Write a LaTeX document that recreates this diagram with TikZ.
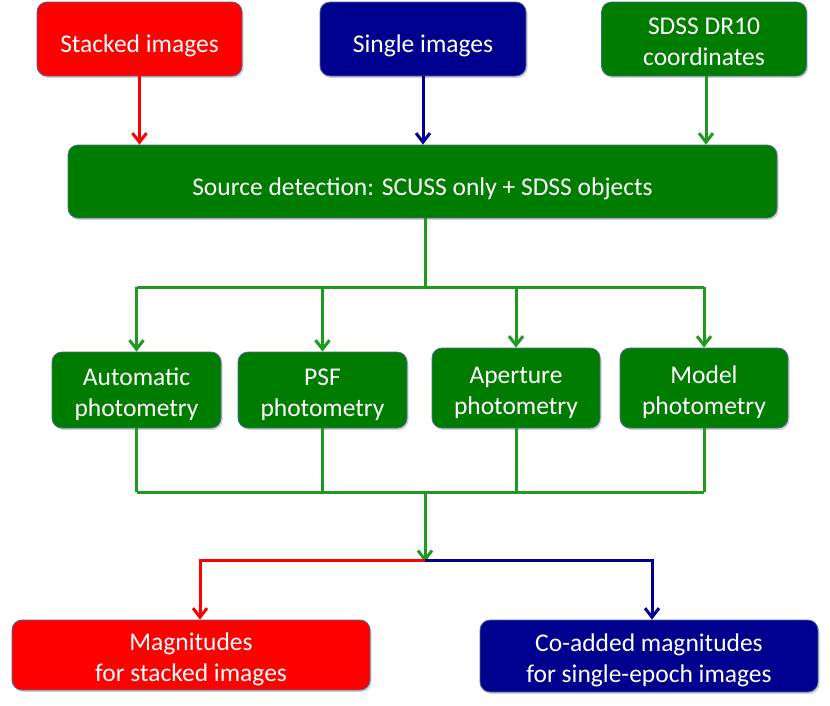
\documentclass[tikz,border=0pt]{standalone}
\usepackage{fontspec}
\setmainfont{Carlito}
\usetikzlibrary{positioning, arrows.meta, calc, shadows}
\definecolor{SC_Red}{HTML}{FF0000}
\definecolor{SC_Blue}{HTML}{00008F}
\definecolor{SC_Green}{HTML}{007D00}
\definecolor{SC_Line}{HTML}{1E9A1E}
\definecolor{SC_Edge}{HTML}{4A6A9A}
\newcommand{\twolines}[2]{\begin{tabular}[b]{@{}c@{}}#1\\#2\end{tabular}}

\begin{document}
\begin{tikzpicture}[
  x=1pt, y=-1pt, every node/.style={font=\fontsize{25.5}{31}\selectfont},
  box/.style={draw=SC_Edge, line width=0.8pt, rounded corners=10pt, text=white,
    inner sep=0pt, text depth=0pt,
    execute at begin node={\rule{0pt}{27pt}},
    drop shadow={shadow xshift=1.5pt, shadow yshift=-2pt, opacity=0.35}},
  rbox/.style={box, fill=SC_Red},
  bbox/.style={box, fill=SC_Blue},
  gbox/.style={box, fill=SC_Green},
  arr/.style={-{Straight Barb[length=9pt, width=14pt]}, line width=3pt},
  lnk/.style={line width=3pt, SC_Line}
]
  \useasboundingbox (0,0) rectangle (830,705);

  % Inputs
  \node[rbox, minimum width=205pt, minimum height=74pt] (stacked) at (139.5,39) {Stacked images};
  \node[bbox, minimum width=206pt, minimum height=74pt] (single) at (423,39) {Single images};
  \node[gbox, minimum width=205pt, minimum height=74pt] (sdss) at (704,39) {\twolines{SDSS DR10}{coordinates}};

  % Source detection
  \node[gbox, minimum width=709pt, minimum height=73pt] (src) at (422.5,181.5)
    {Source detection: SCUSS only + SDSS objects};

  % Photometry methods
  \node[gbox, minimum width=169pt, minimum height=76pt] (auto) at (136.5,390) {\twolines{Automatic}{photometry}};
  \node[gbox, minimum width=169pt, minimum height=76pt] (psf) at (322.5,390) {\twolines{PSF}{photometry}};
  \node[gbox, minimum width=168pt, minimum height=80pt] (aper) at (516,388) {\twolines{Aperture}{photometry}};
  \node[gbox, minimum width=168pt, minimum height=80pt] (model) at (704,388) {\twolines{Model}{photometry}};

  % Outputs
  \node[rbox, minimum width=358pt, minimum height=70pt] (mag) at (191,655) {\twolines{Magnitudes}{for stacked images}};
  \node[bbox, minimum width=338pt, minimum height=72pt] (coadd) at (649,656)
    {\twolines{Co-added magnitudes}{for single-epoch images}};

  % Split and join points
  \coordinate (split) at (425,287);
  \coordinate (join) at (425,492);
  \coordinate (fork) at (425,560);

  % Inputs to source detection
  \draw[arr, SC_Red] (stacked) -- (stacked |- src.north);
  \draw[arr, SC_Blue] (single) -- (single |- src.north);
  \draw[arr, SC_Line] ([xshift=2pt]sdss.south) -- ([xshift=2pt]sdss.south |- src.north);

  % Fan out
  \draw[lnk] (src.south -| split) -- (split);
  \draw[lnk] (auto.north |- split) -- (model.north |- split);
  \draw[arr, SC_Line] (auto.north |- split) -- (auto.north);
  \draw[arr, SC_Line] (psf.north |- split) -- (psf.north);
  \draw[arr, SC_Line] (aper.north |- split) -- (aper.north);
  \draw[arr, SC_Line] (model.north |- split) -- (model.north);

  % Fan in
  \draw[lnk] (auto.south) -- (auto.south |- join);
  \draw[lnk] (psf.south) -- (psf.south |- join);
  \draw[lnk] (aper.south) -- (aper.south |- join);
  \draw[lnk] (model.south) -- (model.south |- join);
  \draw[lnk] (auto.south |- join) -- (model.south |- join);
  \draw[arr, SC_Line] (join) -- ([yshift=-2pt]fork);

  % Outputs
  \draw[arr, SC_Red] (fork) -| ([xshift=9pt]mag.north);
  \draw[arr, SC_Blue] (fork) -| ([xshift=3pt]coadd.north);
\end{tikzpicture}
\end{document}
